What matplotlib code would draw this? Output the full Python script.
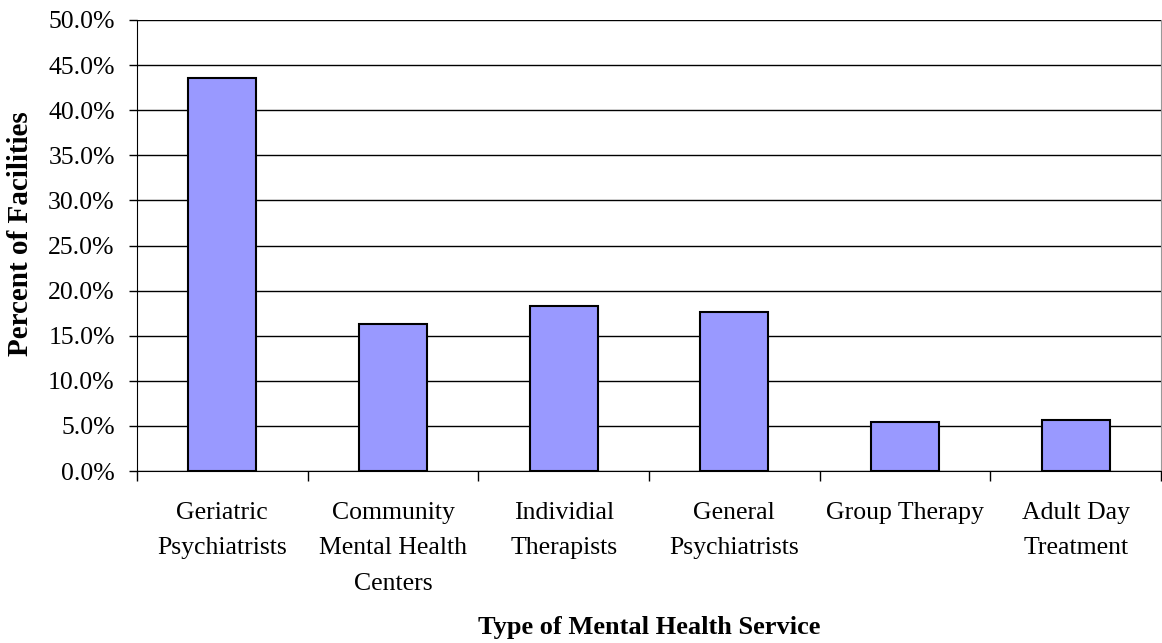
import numpy as np
import matplotlib.pyplot as plt
from matplotlib.ticker import FuncFormatter, FixedLocator

plt.rcParams['font.family'] = ['Liberation Serif', 'DejaVu Serif']

categories = ["Geriatric\nPsychiatrists", "Community\nMental Health\nCenters",
              "Individial\nTherapists", "General\nPsychiatrists",
              "Group Therapy", "Adult Day\nTreatment"]
percents = [43.6, 16.35, 18.3, 17.6, 5.45, 5.6]

W, H = 1162, 643
fig = plt.figure(figsize=(W / 100, H / 100), dpi=100)
ax = fig.add_axes([137 / W, 1 - 471 / H, (1161 - 137) / W, (471 - 20) / H])

x = np.arange(len(categories))
ax.bar(x, percents, width=0.4, color="#9999ff", edgecolor="black", linewidth=1.5, zorder=3)

ax.set_xlim(-0.5, len(categories) - 0.5)
ax.set_ylim(0, 50)
ax.set_yticks(np.arange(0, 50.1, 5))
ax.yaxis.set_major_formatter(FuncFormatter(lambda v, p: "%.1f%%" % v))
ax.yaxis.grid(True, color="black", linewidth=1)
ax.set_axisbelow(True)

# ticks between categories, labels centred under bars
ax.set_xticks(x)
ax.set_xticklabels(categories, fontsize=18.5, linespacing=1.8, va="top")
ax.tick_params(axis="x", which="major", length=0, pad=22)
ax.xaxis.set_minor_locator(FixedLocator(np.arange(-0.5, len(categories), 1)))
ax.tick_params(axis="x", which="minor", length=7, width=1)
ax.tick_params(axis="y", length=6, width=1, labelsize=18.5, pad=10)

ax.spines["top"].set_visible(False)
ax.spines["right"].set_color("#999999")

fig.text(21 / W, 1 - 234 / H, "Percent of Facilities", fontsize=21, fontweight="bold",
         rotation=90, ha="center", va="center")
fig.text(649 / W, 1 - 616 / H, "Type of Mental Health Service", fontsize=19,
         fontweight="bold", ha="center", va="top")

fig.savefig("out.png", dpi=100)
